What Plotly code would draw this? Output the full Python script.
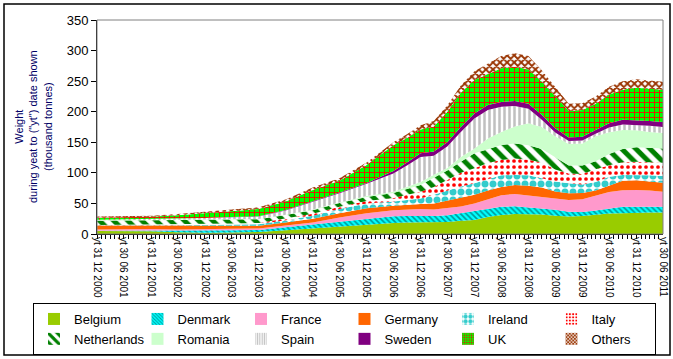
import plotly.graph_objects as go

# ---------------- data (thousand tonnes) ----------------
dates = ["2000-12-31", "2001-06-30", "2001-12-31", "2002-06-30", "2002-12-31", "2003-06-30",
         "2003-12-31", "2004-06-30", "2004-12-31", "2005-06-30", "2005-12-31", "2006-06-30",
         "2006-09-30", "2006-12-31", "2007-03-31", "2007-06-30", "2007-09-30", "2007-12-31",
         "2008-03-31", "2008-06-30", "2008-09-30", "2008-12-31", "2009-03-31", "2009-06-30",
         "2009-09-30", "2009-12-31", "2010-03-31", "2010-06-30", "2010-09-30", "2010-12-31",
         "2011-03-31", "2011-06-30"]

belgium = [5, 5, 4.5, 3, 2, 2.5, 3.3, 6, 9, 12, 16, 18,
           19, 19, 19, 19.5, 21.5, 23, 28, 31, 32.7, 32.5, 32, 30, 28.5, 29.5, 32, 33.5, 33.8, 35, 35, 35]
denmark = [0.5, 0.5, 0.5, 2, 3.5, 3.5, 3.2, 5, 6, 8, 9, 11,
           10.5, 10, 10.5, 11, 12.5, 13.5, 13, 13.5, 12.8, 11, 10.5, 9.5, 8, 6.5, 6.5, 8.5, 10.7, 9.7, 9.7, 9.7]
france = [2, 2.5, 3, 2.5, 2, 2.5, 2.5, 3, 4, 7, 9, 10,
          11, 12, 10.5, 11.5, 11, 13.5, 16, 19, 19.9, 19.5, 18.5, 19, 19, 21, 24, 26.5, 27, 27.3, 26.3, 24.3]
germany = [6.5, 6.5, 6, 6.5, 6.5, 5, 4.5, 5, 6, 7, 8, 7,
           7.5, 8, 10, 13, 14, 14, 14, 13.5, 14.6, 16, 15, 11, 11, 10, 8.5, 11, 15.5, 16, 15, 15]
ireland = [0.3, 0.3, 0.5, 0.5, 1, 2, 2.5, 3.5, 5, 7, 8, 7,
           8, 9, 14, 16, 18.5, 19, 19, 19, 16.5, 17, 15, 16.5, 16.5, 14, 14, 14, 9.5, 8.5, 10, 11]
italy = [0.5, 0.5, 0.5, 0.7, 1, 1.5, 2, 2.5, 3, 3.5, 4, 6,
         8.5, 11, 13, 18, 22.5, 24.5, 26, 25, 27, 25.5, 26, 19.5, 16, 17, 21, 19, 21, 21.5, 21, 21.6]
netherlands = [7, 7, 7.5, 8, 8, 7.5, 6, 6, 6, 6, 6.5, 8,
               9.5, 11, 15, 15, 18, 24.5, 22.5, 24.5, 24.5, 23.5, 22, 20, 13, 14, 13, 18.5, 21.5, 24, 24, 23.4]
romania = [0.5, 0.5, 0.5, 0.5, 0.5, 0.5, 0.5, 0.5, 1, 1, 1.5, 2,
           3, 5, 5, 4, 8, 8, 17.5, 21.5, 28, 36, 36, 34.5, 35, 36, 41, 35.5, 31, 27.5, 26, 25]
spain = [1, 1, 1, 1.2, 1.5, 2.5, 4, 7, 12, 15, 20, 30,
         35, 41, 31, 35, 41, 49, 47, 41, 33.5, 24, 12, 6, 5, 5, 4, 7.5, 9, 9, 10, 10]
sweden = [0.2, 0.2, 0.2, 0.3, 0.3, 0.3, 0.5, 0.8, 1.5, 1.5, 1.5, 4,
          5, 6, 7, 7, 8, 8, 8, 8, 8, 8, 8, 7, 6, 6, 6, 7, 8, 8, 8, 8]
uk = [3.5, 3.5, 4, 5.5, 8, 9.5, 12, 14, 18.5, 19, 29.5, 42,
      40, 39, 41, 50, 56, 55, 50, 55, 56, 56, 54, 53, 43, 44, 43, 47, 49, 52.5, 52, 53]
others = [1.5, 1.5, 1.8, 2, 2, 2.5, 2.6, 3, 4, 4, 4, 5,
          6, 7, 9, 10, 12, 14, 17, 20, 22, 22, 19, 15, 12, 11, 12, 13, 14, 14, 14, 13]

series_names = ["Belgium", "Denmark", "France", "Germany", "Ireland", "Italy",
                "Netherlands", "Romania", "Spain", "Sweden", "UK", "Others"]
series_values = [belgium, denmark, france, germany, ireland, italy,
                 netherlands, romania, spain, sweden, uk, others]

tick_dates = ["2000-12-31", "2001-06-30", "2001-12-31", "2002-06-30", "2002-12-31", "2003-06-30",
              "2003-12-31", "2004-06-30", "2004-12-31", "2005-06-30", "2005-12-31", "2006-06-30",
              "2006-12-31", "2007-06-30", "2007-12-31", "2008-06-30", "2008-12-31", "2009-06-30",
              "2009-12-31", "2010-06-30", "2010-12-31", "2011-06-30"]
tick_labels = ["yt 31 12 2000", "yt 30 06 2001", "yt 31 12 2001", "yt 30 06 2002", "yt 31 12 2002",
               "yt 30 06 2003", "yt 31 12 2003", "yt 30 06 2004", "yt 31 12 2004", "yt 30 06 2005",
               "yt 31 12 2005", "yt 30 06 2006", "yt 31 12 2006", "yt 30 06 2007", "yt 31 12 2007",
               "yt 30 06 2008", "yt 31 12 2008", "yt 30 06 2009", "yt 31 12 2009", "yt 30 06 2010",
               "yt 31 12 2010", "yt 30 06 2011"]

# ---------------- styles ----------------
styles = {
    "Belgium": dict(bg="#99CC00", shape=""),
    "Denmark": dict(bg="#00FFFF", fg="#009999", shape="\\", size=4, sol=0.4),
    "France": dict(bg="#FF99CC", shape=""),
    "Germany": dict(bg="#FF6600", shape=""),
    "Ireland": dict(bg="#FFFFFF", fg="#33CCCC", shape=".", size=8, sol=0.6),
    "Italy": dict(bg="#FFFFFF", fg="#FF0000", shape=".", size=6, sol=0.3),
    "Netherlands": dict(bg="#FFFFFF", fg="#008000", shape="\\", size=10, sol=0.5),
    "Romania": dict(bg="#CCFFCC", shape=""),
    "Spain": dict(bg="#FFFFFF", fg="#C0C0C0", shape="|", size=5, sol=0.5),
    "Sweden": dict(bg="#800080", shape=""),
    "UK": dict(bg="#00FF00", fg="#FF0000", shape="+", size=5, sol=0.3),
    "Others": dict(bg="#FFFFFF", fg="#993300", shape="x", size=5, sol=0.6),
}

fig = go.Figure()
for name, vals in zip(series_names, series_values):
    st = styles[name]
    kw = dict(x=dates, y=vals, name=name, mode="lines", stackgroup="one",
              line=dict(width=0), fillcolor=st["bg"], showlegend=False, hoverinfo="skip")
    if st["shape"]:
        kw["fillpattern"] = dict(shape=st["shape"], fgcolor=st["fg"], bgcolor=st["bg"],
                                 size=st["size"], solidity=st["sol"], fillmode="replace")
    fig.add_trace(go.Scatter(**kw))

# legend entries (square swatches)
for name in series_names:
    st = styles[name]
    marker = dict(color=st["bg"], line=dict(width=0))
    if st["shape"]:
        marker["pattern"] = dict(shape=st["shape"], fgcolor=st["fg"], bgcolor=st["bg"],
                                 size=max(3, st["size"] - 2), solidity=st["sol"], fillmode="replace")
    fig.add_trace(go.Bar(x=[dates[0]], y=[0], name=name, marker=marker, showlegend=True,
                         hoverinfo="skip"))

W, H = 673, 359
L, R, T, B = 97, 10, 20, 125
pw, ph = W - L - R, H - T - B

def px_x(p):
    return (p - L) / pw

def px_y(p):
    return (H - B - p) / ph

fig.update_layout(
    width=W, height=H,
    margin=dict(l=L, r=R, t=T, b=B, autoexpand=False),
    paper_bgcolor="white", plot_bgcolor="white",
    font=dict(family="Liberation Sans, Arial, sans-serif", color="black"),
    showlegend=True,
    legend=dict(orientation="h", x=px_x(33), y=px_y(303), xanchor="left", yanchor="top",
                bordercolor="black", borderwidth=1, bgcolor="white",
                font=dict(size=13, color="black"), entrywidth=58.5, entrywidthmode="pixels",
                traceorder="normal", itemclick=False, tracegroupgap=0),
    xaxis=dict(type="date", range=[dates[0], dates[-1]], tickmode="array",
               tickvals=tick_dates, ticktext=tick_labels, tickangle=90,
               tickfont=dict(size=10, color="black"), ticks="", showgrid=False,
               showline=True, linecolor="black", linewidth=1, zeroline=False,
               minor=dict(ticks="outside", dtick="M1", tick0="2000-12-01", ticklen=4,
                          tickcolor="black", showgrid=False)),
    yaxis=dict(range=[0, 350], dtick=50, tickfont=dict(size=13, color="black"),
               ticks="outside", ticklen=5, tickcolor="black", showgrid=False,
               showline=True, linecolor="black", linewidth=1, zeroline=False),
    shapes=[
        dict(type="rect", xref="paper", yref="paper", x0=0, x1=1, y0=0, y1=1,
             line=dict(color="#808080", width=1), layer="above"),
        dict(type="rect", xref="paper", yref="paper", x0=px_x(4), x1=px_x(670),
             y0=px_y(355), y1=px_y(4), line=dict(color="black", width=1.5)),
    ],
    annotations=[
        dict(text="Weight<br>during yeat to (\"yt\") date shown<br>(thousand tonnes)",
             xref="paper", yref="paper", x=px_x(33), y=0.5, xanchor="center", yanchor="middle",
             textangle=-90, showarrow=False, font=dict(size=11, color="#000066")),
    ],
)

fig.write_html("out.html", config={"displayModeBar": False},
               post_script="document.body.style.margin='0';document.body.style.padding='0';")
